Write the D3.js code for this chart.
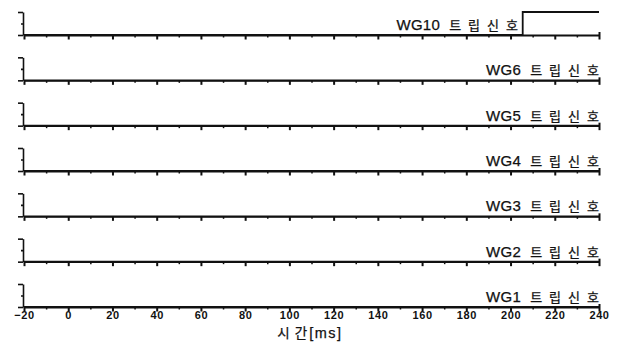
<!DOCTYPE html>
<html><head><meta charset="utf-8">
<script src="https://cdn.jsdelivr.net/npm/d3@7"></script>
<style>
html,body{margin:0;padding:0;background:#fff;}
svg{display:block;}
</style></head>
<body>
<svg id="chart" width="622" height="345"></svg>
<script>
// ---- data ----
const gateNames = ["WG10","WG6","WG5","WG4","WG3","WG2","WG1"];
const signalName = "트립신호";
const categories = gateNames.map(g => g + " " + signalName);
const timeMs = [-20, 205.5, 205.5, 240];
const wg10 = [0, 0, 1, 1];
const wg6 = [0, 0, 0, 0];
const wg5 = [0, 0, 0, 0];
const wg4 = [0, 0, 0, 0];
const wg3 = [0, 0, 0, 0];
const wg2 = [0, 0, 0, 0];
const wg1 = [0, 0, 0, 0];
const seriesValues = [wg10, wg6, wg5, wg4, wg3, wg2, wg1];
const xTickValues = [-20,0,20,40,60,80,100,120,140,160,180,200,220,240];
const xMinorTicks = [-10,10,30,50,70,90,110,130,150,170,190,210,230];
const yTickValues = [0, 0.5, 1];
const xTitleKo = "시 간";
const xTitleUnit = "[ms]";

// ---- layout ----
const svg = d3.select("#chart");
const x = d3.scaleLinear().domain([-20, 240]).range([24, 599]);
const firstBase = 35, lastBase = 307;
const rowY = d3.scalePoint().domain(categories).range([firstBase, lastBase]);
const panelH = 23;
const ink = "#111";
const latin = "'Liberation Sans', Arial, sans-serif";
const cjk = "'Noto Sans CJK KR', sans-serif";

categories.forEach((cat, i) => {
  const base = rowY(cat);
  const y = d3.scaleLinear().domain([0, 1]).range([base, base - panelH]);
  const g = svg.append("g");

  // y axis
  const yAxis = d3.axisLeft(y).tickValues(yTickValues).tickFormat("")
    .tickSize(5).tickSizeOuter(0);
  const ya = g.append("g").attr("transform", `translate(${x(-20) - 1},0)`).call(yAxis);
  ya.select(".domain").attr("stroke", ink).attr("stroke-width", 1.6);
  ya.selectAll(".tick line").attr("stroke", ink).attr("stroke-width", 1.6)
    .attr("x2", d => d === 0.5 ? -2 : -5);

  // x axis (major)
  const xAxis = d3.axisBottom(x).tickValues(xTickValues)
    .tickFormat(i === categories.length - 1 ? d3.format("d") : "")
    .tickSize(4.5).tickSizeOuter(0);
  const xa = g.append("g").attr("transform", `translate(0,${base})`).call(xAxis);
  xa.select(".domain").attr("stroke", ink).attr("stroke-width", 1.8);
  xa.selectAll(".tick line").attr("stroke", ink).attr("stroke-width", 2)
    .attr("y1", d => d === 240 ? -3 : 0);
  xa.selectAll(".tick text").attr("fill", ink)
    .style("font-family", latin).style("font-size", "11px").style("font-weight", "bold")
    .style("letter-spacing", "0.6px")
    .attr("y", 12).attr("dy", 0);

  // minor ticks
  const xm = d3.axisBottom(x).tickValues(xMinorTicks).tickFormat("").tickSize(2.5).tickSizeOuter(0);
  const xma = g.append("g").attr("transform", `translate(0,${base})`).call(xm);
  xma.select(".domain").remove();
  xma.selectAll(".tick line").attr("stroke", ink).attr("stroke-width", 1.5);

  // signal
  const vals = seriesValues[i];
  const line = d3.line().x((d, k) => x(timeMs[k])).y(d => y(d));
  g.append("path").datum(vals).attr("d", line)
    .attr("fill", "none").attr("stroke", ink).attr("stroke-width", 1.8);

  // label
  const right = i === 0 ? 518 : 599;
  const t = g.append("text").attr("x", 0).attr("y", base - 5).attr("fill", ink)
    .attr("stroke", ink).attr("stroke-width", 0.25);
  t.append("tspan").style("font-family", latin).style("font-size", "15px")
    .style("letter-spacing", "0.3px").text(gateNames[i]);
  t.append("tspan").attr("dx", 9).style("font-family", cjk).style("font-size", "13px")
    .style("letter-spacing", "7px").text(signalName);
  const w = t.node().getBBox().width - 7;
  t.attr("x", right - w);
});

// x title
const tt = svg.append("text").attr("x", 0).attr("y", 338).attr("fill", ink)
  .attr("stroke", ink).attr("stroke-width", 0.25);
tt.append("tspan").style("font-family", cjk).style("font-size", "13.5px")
  .style("letter-spacing", "1px").text(xTitleKo);
tt.append("tspan").attr("dx", 1).style("font-family", latin).style("font-size", "14.5px")
  .style("letter-spacing", "1.5px").text(xTitleUnit);
const tw = tt.node().getBBox().width;
tt.attr("x", 310 - tw / 2);
</script>
</body></html>
